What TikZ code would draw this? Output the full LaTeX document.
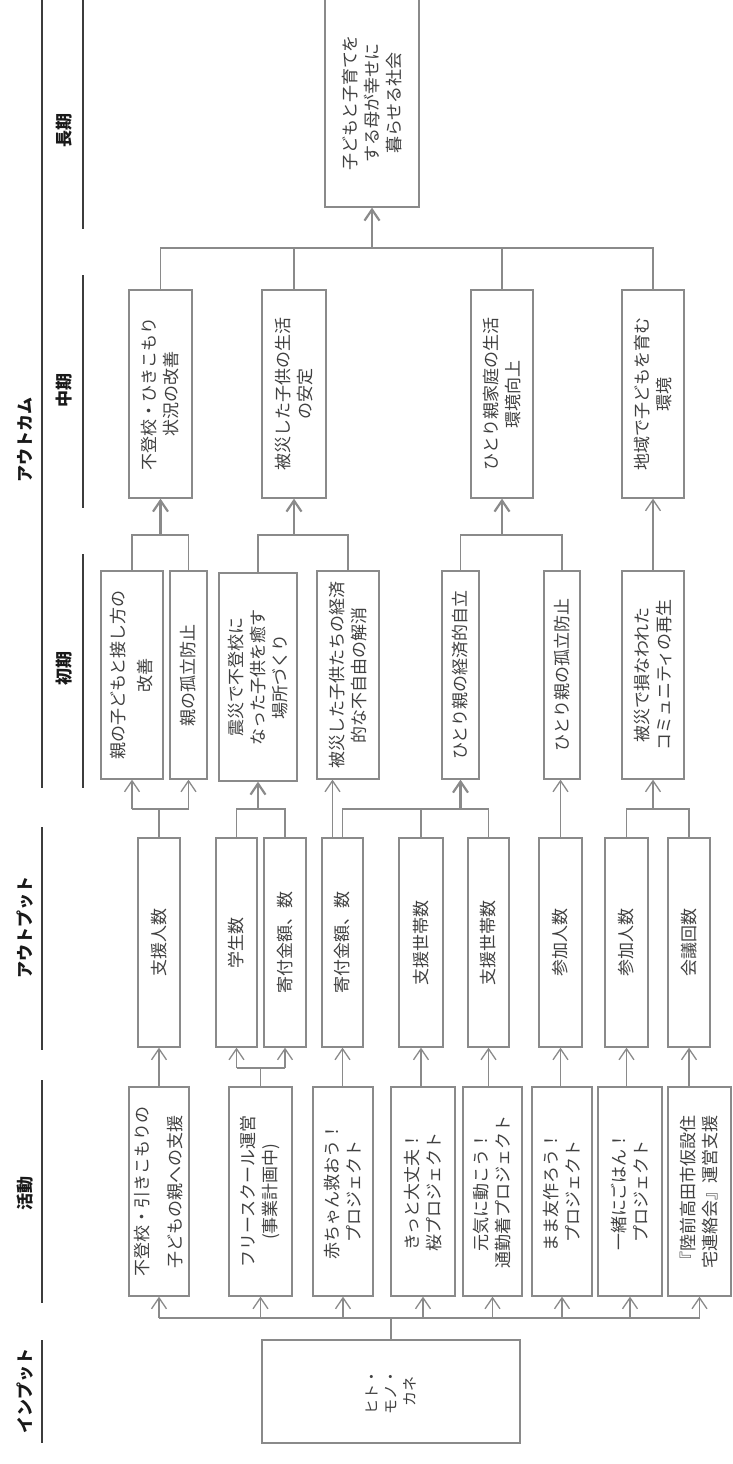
\documentclass[tikz,border=0pt]{standalone}
\usepackage{fontspec}
\setmainfont{Noto Sans CJK JP}
\usepackage{xcolor}
\usepackage{tikz}
\definecolor{lmgray}{RGB}{138, 138, 138}
\definecolor{lmtext}{RGB}{64, 64, 64}
\definecolor{lmrule}{RGB}{60, 60, 60}
\definecolor{lmhead}{RGB}{25, 25, 25}
\usetikzlibrary{arrows.meta,calc}

\begin{document}
\begin{tikzpicture}[x=1pt, y=-1pt]
    \tikzstyle{box} = [rectangle, draw=lmgray, line width=1.3pt, rotate=90, inner sep=0pt,
                       align=center, text=lmtext, font=\fontsize{17}{22}\selectfont]
    \tikzstyle{activity} = [box, minimum width=209]
    \tikzstyle{output} = [box, minimum width=209]
    \tikzstyle{outcome} = [box, minimum width=208]
    \tikzstyle{head} = [rotate=90, text=lmhead, font=\fontsize{17}{20}\selectfont\bfseries]
    \tikzstyle{rule} = [draw=lmrule, line width=1.2pt]
    \tikzstyle{link} = [draw=lmgray, line width=1.3pt]
    \tikzstyle{trunk} = [line width=2.2pt]
    \tikzstyle{arr} = [link, -{Straight Barb[length=11pt, width=15pt]}]

    \useasboundingbox (0,0) rectangle (732,1464);

    % Column headers
    \node[head] (hinp) at (25,1391) {インプット};
    \node[head] (hact) at (25,1193) {活動};
    \node[head] (hout) at (25,927) {アウトプット};
    \node[head] (hoc) at (25,440) {アウトカム};
    \node[head] (hini) at (64,668) {初期};
    \node[head] (hmid) at (64,390) {中期};
    \node[head] (hlong) at (64,130) {長期};

    \draw[rule] (42,1340) -- (42,1443);
    \draw[rule] (42,1080) -- (42,1303);
    \draw[rule] (42,827) -- (42,1050);
    \draw[rule] (42,0) -- (42,788);
    \draw[rule] (83,554) -- (83,788);
    \draw[rule] (83,275) -- (83,508);
    \draw[rule] (83,0) -- (83,229);

    % Input
    \node[box, minimum width=103, minimum height=258, font=\fontsize{15}{19}\selectfont]
        (inp) at (391,1391.5) {ヒト・\\モノ・\\カネ};

    % Activities
    \node[activity, minimum height=60] (act1) at (159,1191.5) {不登校・引きこもりの\\[11pt]子どもの親への支援};
    \node[activity, minimum height=63] (act2) at (260.5,1191.5) {フリースクール運営\\(事業計画中)};
    \node[activity, minimum height=60] (act3) at (343,1191.5) {赤ちゃん救おう！\\プロジェクト};
    \node[activity, minimum height=64] (act4) at (423,1191.5) {きっと大丈夫！\\桜プロジェクト};
    \node[activity, minimum height=59] (act5) at (492.5,1191.5) {元気に動こう！\\通勤着プロジェクト};
    \node[activity, minimum height=60] (act6) at (562,1191.5) {まま友作ろう！\\プロジェクト};
    \node[activity, minimum height=64] (act7) at (630,1191.5) {一緒にごはん！\\プロジェクト};
    \node[activity, minimum height=63] (act8) at (699.5,1191.5) {『陸前高田市仮設住\\宅連絡会』運営支援};

    % Outputs
    \node[output, minimum height=42] (out1) at (159,942.5) {支援人数};
    \node[output, minimum height=41] (out2) at (236.5,942.5) {学生数};
    \node[output, minimum height=42] (out3) at (285,942.5) {寄付金額、数};
    \node[output, minimum height=41] (out4) at (342.5,942.5) {寄付金額、数};
    \node[output, minimum height=44] (out5) at (421,942.5) {支援世帯数};
    \node[output, minimum height=41] (out6) at (488.5,942.5) {支援世帯数};
    \node[output, minimum height=43] (out7) at (560.5,942.5) {参加人数};
    \node[output, minimum height=43] (out8) at (626.5,942.5) {参加人数};
    \node[output, minimum height=42] (out9) at (689,942.5) {会議回数};

    % Initial outcomes
    \node[outcome, minimum height=62] (ini1) at (132,675) {親の子どもと接し方の\\[5pt]改善};
    \node[outcome, minimum height=37] (ini2) at (188.5,675) {親の孤立防止};
    \node[outcome, minimum height=78] (ini3) at (258,677) {震災で不登校に\\なった子供を癒す\\場所づくり};
    \node[outcome, minimum height=62] (ini4) at (348,675) {被災した子供たちの経済\\的な不自由の解消};
    \node[outcome, minimum height=37] (ini5) at (460.5,675) {ひとり親の経済的自立};
    \node[outcome, minimum height=36] (ini6) at (562,675) {ひとり親の孤立防止};
    \node[outcome, minimum height=62] (ini7) at (653,675) {被災で損なわれた\\コミュニティの再生};

    % Mid-term outcomes
    \node[outcome, minimum height=63] (mid1) at (160.5,394) {不登校・ひきこもり\\状況の改善};
    \node[outcome, minimum height=64] (mid2) at (294,394) {被災した子供の生活\\の安定};
    \node[outcome, minimum height=62] (mid3) at (502,394) {ひとり親家庭の生活\\環境向上};
    \node[outcome, minimum height=62] (mid4) at (653,394) {地域で子どもを育む\\環境};

    % Long-term outcome
    \node[outcome, minimum height=94] (goal) at (372,103) {子どもと子育てを\\する母が幸せに\\暮らせる社会};

    % Levels of the joining lines
    \coordinate (lvin) at (0,1318);
    \coordinate (lvact) at (0,1068);
    \coordinate (lvout) at (0,809);
    \coordinate (lvini) at (0,535);
    \coordinate (lvmid) at (0,248);

    % Input to activities
    \draw[link] (inp.east) -- (inp.east |- lvin);
    \draw[link] (act1.west |- lvin) -- (act8.west |- lvin);
    \foreach \i in {1,...,8}
        \draw[arr] (act\i.west |- lvin) -- (act\i.west);

    % Activities to outputs
    \draw[arr] (act1.east) -- (out1.west);
    \draw[link] (act2.east) -- (act2.east |- lvact);
    \draw[link] (out2.west |- lvact) -- (out3.west |- lvact);
    \draw[arr] (out2.west |- lvact) -- (out2.west);
    \draw[arr] (out3.west |- lvact) -- (out3.west);
    \foreach \a/\o in {3/4, 4/5, 5/6, 6/7, 7/8, 8/9}
        \draw[arr] (out\o.west |- act\a.east) -- (out\o.west);

    % Outputs to initial outcomes
    \draw[link] (out1.east) -- (out1.east |- lvout);
    \draw[link] (ini1.west |- lvout) -- (ini2.west |- lvout);
    \draw[arr] (ini1.west |- lvout) -- (ini1.west);
    \draw[arr] (ini2.west |- lvout) -- (ini2.west);
    \draw[link] (out2.east) -- (out2.east |- lvout) -- (out3.east |- lvout) -- (out3.east);
    \draw[arr, trunk] (ini3.west |- lvout) -- (ini3.west);
    \coordinate (o4side) at ($(out4.east)+(-10,0)$);
    \draw[arr] (o4side) -- (o4side |- ini4.west);
    \draw[link] (out4.east) -- (out4.east |- lvout) -- (out6.east |- lvout) -- (out6.east);
    \draw[link] (out5.east) -- (out5.east |- lvout);
    \draw[arr, trunk] (ini5.west |- lvout) -- (ini5.west);
    \draw[arr] (out7.east) -- (out7.east |- ini6.west);
    \draw[link] (out8.east) -- (out8.east |- lvout) -- (out9.east |- lvout) -- (out9.east);
    \draw[arr] (ini7.west |- lvout) -- (ini7.west);

    % Initial to mid-term outcomes
    \draw[link] (ini1.east) -- (ini1.east |- lvini) -- (ini2.east |- lvini) -- (ini2.east);
    \draw[arr, trunk] (mid1.west |- lvini) -- (mid1.west);
    \draw[link] (ini3.east) -- (ini3.east |- lvini) -- (ini4.east |- lvini) -- (ini4.east);
    \draw[arr, trunk] (mid2.west |- lvini) -- (mid2.west);
    \draw[link] (ini5.east) -- (ini5.east |- lvini) -- (ini6.east |- lvini) -- (ini6.east);
    \draw[arr, trunk] (mid3.west |- lvini) -- (mid3.west);
    \draw[arr] (ini7.east) -- (mid4.west);

    % Mid-term to long-term outcome
    \draw[link] (mid1.east) -- (mid1.east |- lvmid) -- (mid4.east |- lvmid) -- (mid4.east);
    \draw[link] (mid2.east) -- (mid2.east |- lvmid);
    \draw[link] (mid3.east) -- (mid3.east |- lvmid);
    \draw[arr, trunk] (goal.west |- lvmid) -- (goal.west);
\end{tikzpicture}
\end{document}
